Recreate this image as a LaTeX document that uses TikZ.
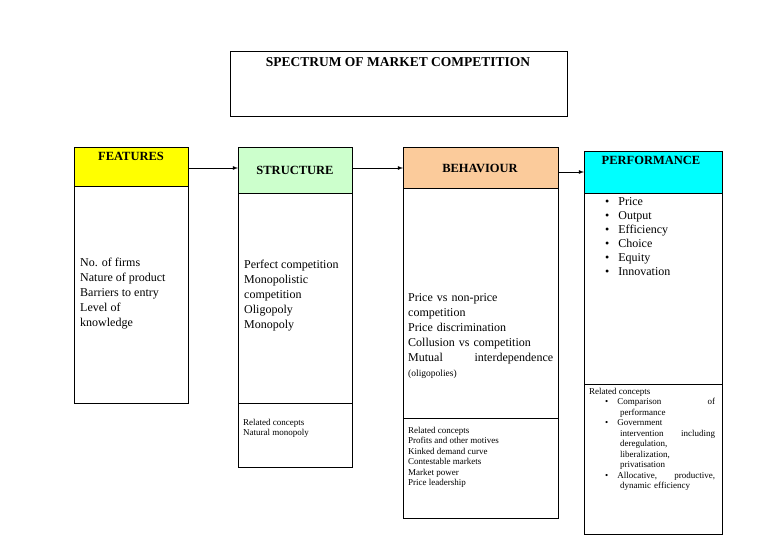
\documentclass[tikz,border=0pt]{standalone}
\usepackage{fontspec}
\setmainfont{Liberation Serif}
\begin{document}
\begin{tikzpicture}[x=1pt,y=-1pt]
  \tikzstyle{box} = [draw=black, rectangle, inner sep=0pt, anchor=north west];
  \tikzstyle{head} = [box];
  \tikzstyle{headtext} = [font=\fontsize{12.5}{14}\selectfont\bfseries];
  \tikzstyle{body} = [font=\fontsize{12}{15}\selectfont, align=left, anchor=north west, inner sep=0pt];
  \tikzstyle{small} = [font=\fontsize{9}{10.5}\selectfont, align=left, anchor=north west, inner sep=0pt];
  \tikzstyle{link} = [draw=black, thick, -latex];
  \definecolor{featyellow}{HTML}{FFFF00}
  \definecolor{structgreen}{HTML}{CCFFCC}
  \definecolor{behpeach}{HTML}{FBCB9B}
  \definecolor{perfcyan}{HTML}{00FFFF}

  \useasboundingbox (0, 0) rectangle (768, 543);

  % title
  \node[box, minimum width=337pt, minimum height=65pt] (title) at (230, 51) {};
  \node[font=\fontsize{13.5}{15}\selectfont\bfseries] at (398, 62) {SPECTRUM OF MARKET COMPETITION};

  % features
  \node[head, fill=featyellow, minimum width=114pt, minimum height=39pt] (feat) at (74, 147) {};
  \node[headtext] at (131, 156) {FEATURES};
  \node[box, minimum width=114pt, minimum height=217pt] (featbody) at (74, 186) {};
  \node[body] at (80, 258) {No. of firms\\Nature of product\\Barriers to entry\\Level of\\knowledge};

  % structure
  \node[head, fill=structgreen, minimum width=114pt, minimum height=46pt] (struct) at (238, 147) {};
  \node[headtext] at (295, 170) {STRUCTURE};
  \node[box, minimum width=114pt, minimum height=210pt] (structbody) at (238, 193) {};
  \node[body] at (244, 260) {Perfect competition\\Monopolistic\\competition\\Oligopoly\\Monopoly};
  \node[box, minimum width=114pt, minimum height=64pt] (structrel) at (238, 403) {};
  \node[small] at (243, 419) {Related concepts\\Natural monopoly};

  % behaviour
  \node[head, fill=behpeach, minimum width=155pt, minimum height=41pt] (beh) at (403, 147) {};
  \node[headtext] at (480, 168) {BEHAVIOUR};
  \node[box, minimum width=155pt, minimum height=230pt] (behbody) at (403, 188) {};
  \node[body, text width=145pt] at (408, 293) {Price vs non-price\\competition\\Price discrimination\\Collusion vs competition\\Mutual \hfill interdependence\\{\fontsize{9.5}{12}\selectfont (oligopolies)}};
  \node[box, minimum width=155pt, minimum height=100pt] (behrel) at (403, 418) {};
  \node[small] at (408, 427) {Related concepts\\Profits and other motives\\Kinked demand curve\\Contestable markets\\Market power\\Price leadership};

  % performance
  \node[head, fill=perfcyan, minimum width=138pt, minimum height=42pt] (perf) at (584, 151) {};
  \node[headtext] at (651, 160) {PERFORMANCE};
  \node[box, minimum width=138pt, minimum height=191pt] (perfbody) at (584, 193) {};
  \node[body, font=\fontsize{12}{14}\selectfont] at (605, 197) {\textbullet\hspace{9pt}Price\\\textbullet\hspace{9pt}Output\\\textbullet\hspace{9pt}Efficiency\\\textbullet\hspace{9pt}Choice\\\textbullet\hspace{9pt}Equity\\\textbullet\hspace{9pt}Innovation};
  \node[box, minimum width=138pt, minimum height=150pt] (perfrel) at (584, 384) {};
  \node[small] at (589, 388) {Related concepts};
  \node[small, text width=110pt] at (605, 398) {\textbullet\hspace{9pt}Comparison \hfill of\\\hspace{15pt}performance\\\textbullet\hspace{9pt}Government\\\hspace{15pt}intervention \hfill including\\\hspace{15pt}deregulation,\\\hspace{15pt}liberalization,\\\hspace{15pt}privatisation\\\textbullet\hspace{9pt}Allocative, \hfill productive,\\\hspace{15pt}dynamic efficiency};

  % connectors
  \draw[link] (feat.east |- 0, 168) -- (struct.west |- 0, 168);
  \draw[link] (struct.east |- 0, 168) -- (beh.west |- 0, 168);
  \draw[link] (beh.east |- 0, 172) -- (perf.west |- 0, 172);
\end{tikzpicture}
\end{document}
